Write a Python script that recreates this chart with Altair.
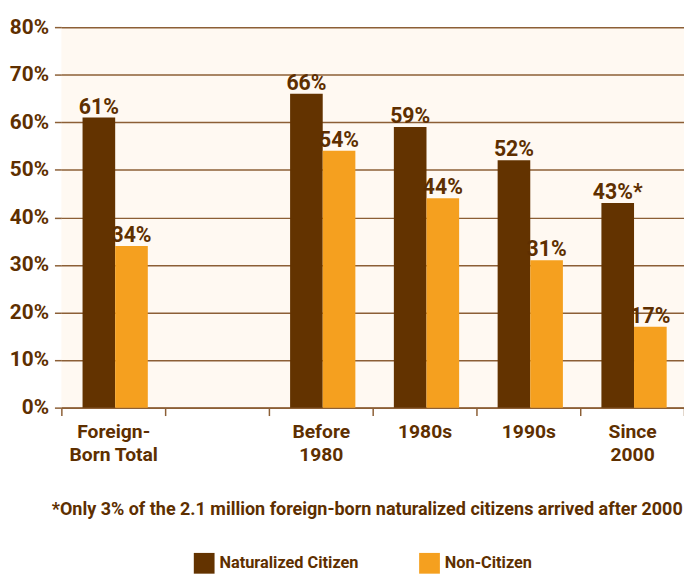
import altair as alt
import pandas as pd

categories = ["Foreign-|Born Total", " ", "Before|1980", "1980s", "1990s", "Since|2000"]
naturalized = [61, None, 66, 59, 52, 43]
non_citizen = [34, None, 54, 44, 31, 17]
nat_notes = ["", "", "", "", "", "*"]
series = ["Naturalized Citizen", "Non-Citizen"]
colors = ["#633300", "#F5A01F"]
footnote = "*Only 3% of the 2.1 million foreign-born naturalized citizens arrived after 2000"

rows = []
for i, c in enumerate(categories):
    if naturalized[i] is not None:
        rows.append({"cat": c, "series": series[0], "value": naturalized[i],
                     "label": f"{naturalized[i]}%{nat_notes[i]}"})
        rows.append({"cat": c, "series": series[1], "value": non_citizen[i],
                     "label": f"{non_citizen[i]}%"})
df = pd.DataFrame(rows)

FONT = "Roboto"
TXT = "#5E2F00"
GRID = "#8C5F36"

x = alt.X("cat:N", scale=alt.Scale(domain=categories, paddingInner=0, paddingOuter=0),
          sort=categories,
          axis=alt.Axis(title=footnote,
                        labelExpr="datum.value ? split(datum.value, '|') : ''",
                        labelAngle=0, labelFontSize=19.5, labelFont=FONT, labelFontWeight="bold",
                        labelColor=TXT, labelLineHeight=24, labelPadding=7,
                        tickBand="extent", tickSize=8, tickColor=GRID, tickWidth=1.5,
                        domainColor=GRID, domainWidth=2,
                        titleFont=FONT, titleFontSize=18.2, titleFontWeight="bold",
                        titleColor=TXT, titleBaseline="alphabetic", titleAlign="center",
                        titleX=309, titleY=108))
xo = alt.XOffset("series:N", sort=series,
                 scale=alt.Scale(paddingOuter=0.59, paddingInner=0, align=0.55))
y = alt.Y("value:Q", scale=alt.Scale(domain=[0, 80]),
          axis=alt.Axis(title=None, values=list(range(0, 81, 10)),
                        labelExpr="datum.value + '%'", labelFontSize=21, labelFont=FONT,
                        labelFontWeight="bold", labelColor=TXT, labelPadding=6,
                        tickSize=7, tickColor=GRID, tickWidth=1.5,
                        grid=True, gridColor=GRID, gridWidth=1.5, domain=False))

bars = alt.Chart(df).mark_bar().encode(
    x=x, xOffset=xo, y=y,
    color=alt.Color("series:N", sort=series,
                    scale=alt.Scale(domain=series, range=colors),
                    legend=alt.Legend(title=None, orient="none", legendX=134, legendY=532,
                                      direction="horizontal", symbolType="square",
                                      symbolSize=441, symbolStrokeWidth=0,
                                      labelFont=FONT, labelFontSize=16.5, labelFontWeight="bold",
                                      labelColor=TXT, labelOffset=5, columnPadding=61,
                                      labelLimit=300)),
)

text = alt.Chart(df).mark_text(baseline="alphabetic", dy=-4, font=FONT, fontSize=21.5,
                               fontWeight="bold", color=TXT).encode(
    x=x, xOffset=xo, y=y, text="label:N")

chart = (bars + text).properties(
    width=630, height=385,
    autosize=alt.AutoSizeParams(type="none"),
    padding={"left": 54, "top": 16, "right": 0, "bottom": 168},
    background="white",
).configure_view(fill="#FFF9F2", stroke=None)

chart.save("out.html", embed_options={"renderer": "svg", "actions": False})
